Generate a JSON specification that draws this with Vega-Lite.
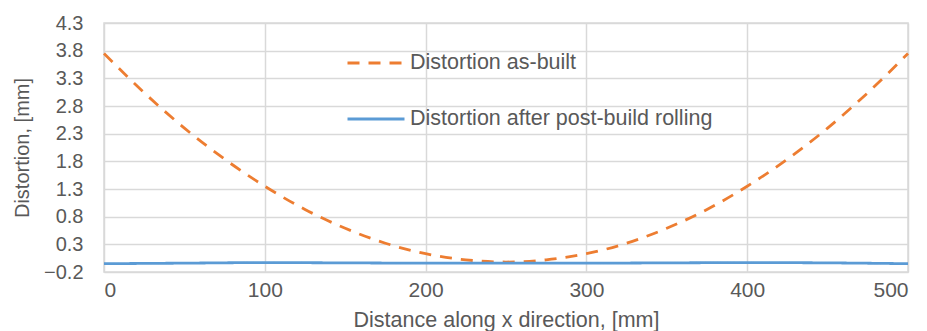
{
  "$schema": "https://vega.github.io/schema/vega-lite/v6.json",
  "width": 804,
  "height": 249,
  "autosize": "none",
  "padding": {"left": 104, "top": 23, "right": 19, "bottom": 59},
  "background": "white",
  "config": {
    "view": {"stroke": "#d9d9d9", "strokeWidth": 1.5},
    "font": "Liberation Sans",
    "axis": {"labelFont": "Liberation Sans", "titleFont": "Liberation Sans", "labelColor": "#595959", "titleColor": "#595959", "gridColor": "#d9d9d9", "gridWidth": 1.5, "domain": false, "ticks": false, "labelFontSize": 20, "titleFontSize": 21, "titleFontWeight": "normal"}
  },
  "data": {
    "values": [
      {"x": 0, "y": 3.75, "s": "Distortion as-built"},
      {"x": 25, "y": 3.04, "s": "Distortion as-built"},
      {"x": 50, "y": 2.40, "s": "Distortion as-built"},
      {"x": 75, "y": 1.84, "s": "Distortion as-built"},
      {"x": 100, "y": 1.35, "s": "Distortion as-built"},
      {"x": 125, "y": 0.93, "s": "Distortion as-built"},
      {"x": 150, "y": 0.59, "s": "Distortion as-built"},
      {"x": 175, "y": 0.32, "s": "Distortion as-built"},
      {"x": 200, "y": 0.13, "s": "Distortion as-built"},
      {"x": 225, "y": 0.02, "s": "Distortion as-built"},
      {"x": 250, "y": -0.02, "s": "Distortion as-built"},
      {"x": 275, "y": 0.02, "s": "Distortion as-built"},
      {"x": 300, "y": 0.13, "s": "Distortion as-built"},
      {"x": 325, "y": 0.32, "s": "Distortion as-built"},
      {"x": 350, "y": 0.59, "s": "Distortion as-built"},
      {"x": 375, "y": 0.93, "s": "Distortion as-built"},
      {"x": 400, "y": 1.35, "s": "Distortion as-built"},
      {"x": 425, "y": 1.84, "s": "Distortion as-built"},
      {"x": 450, "y": 2.40, "s": "Distortion as-built"},
      {"x": 475, "y": 3.04, "s": "Distortion as-built"},
      {"x": 500, "y": 3.75, "s": "Distortion as-built"},
      {"x": 0, "y": -0.05, "s": "Distortion after post-build rolling"},
      {"x": 50, "y": -0.04, "s": "Distortion after post-build rolling"},
      {"x": 100, "y": -0.03, "s": "Distortion after post-build rolling"},
      {"x": 150, "y": -0.035, "s": "Distortion after post-build rolling"},
      {"x": 200, "y": -0.04, "s": "Distortion after post-build rolling"},
      {"x": 250, "y": -0.04, "s": "Distortion after post-build rolling"},
      {"x": 300, "y": -0.04, "s": "Distortion after post-build rolling"},
      {"x": 350, "y": -0.035, "s": "Distortion after post-build rolling"},
      {"x": 400, "y": -0.03, "s": "Distortion after post-build rolling"},
      {"x": 450, "y": -0.035, "s": "Distortion after post-build rolling"},
      {"x": 500, "y": -0.05, "s": "Distortion after post-build rolling"}
    ]
  },
  "mark": {"type": "line", "strokeWidth": 2.8, "interpolate": "monotone"},
  "encoding": {
    "x": {"field": "x", "type": "quantitative", "scale": {"domain": [0, 500], "nice": false}, "axis": {"values": [0, 100, 200, 300, 400, 500], "title": "Distance along x direction, [mm]", "labelPadding": 7, "titlePadding": 9, "labelFontSize": 21, "titleFontSize": 21.5}},
    "y": {"field": "y", "type": "quantitative", "scale": {"domain": [-0.2, 4.3], "nice": false, "zero": false}, "axis": {"values": [-0.2, 0.3, 0.8, 1.3, 1.8, 2.3, 2.8, 3.3, 3.8, 4.3], "format": ".1f", "title": "Distortion, [mm]", "labelPadding": 21, "titlePadding": 11, "titleFontSize": 20}},
    "color": {"field": "s", "type": "nominal", "sort": ["Distortion as-built", "Distortion after post-build rolling"], "scale": {"domain": ["Distortion as-built", "Distortion after post-build rolling"], "range": ["#ED7D31", "#5B9BD5"]}, "legend": {"title": null, "orient": "none", "legendX": 242, "legendY": 10, "symbolType": "stroke", "symbolSize": 3249, "symbolStrokeWidth": 2.8, "labelFontSize": 21.5, "labelColor": "#595959", "labelFont": "Liberation Sans", "labelLimit": 500, "rowPadding": 15, "labelOffset": 4}},
    "strokeDash": {"field": "s", "type": "nominal", "sort": ["Distortion as-built", "Distortion after post-build rolling"], "scale": {"domain": ["Distortion as-built", "Distortion after post-build rolling"], "range": [[12, 9], [1, 0]]}, "legend": null}
  }
}
